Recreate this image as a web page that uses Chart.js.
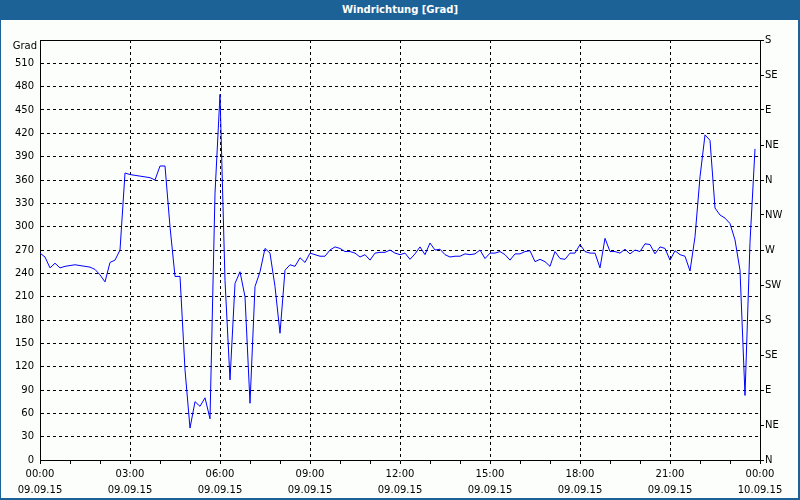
<!DOCTYPE html>
<html>
<head>
<meta charset="utf-8">
<script src="https://cdn.jsdelivr.net/npm/chart.js@4.4.1/dist/chart.umd.min.js"></script>
<style>
  body { margin: 0; background: #fcfefc; }
  #title {
    position: absolute; top: 0; left: 0; width: 800px; height: 20px;
    background: #1d6296; color: #fff; text-align: center;
    font: bold 10px "DejaVu Sans", sans-serif; line-height: 20px;
  }
  #unit {
    position: absolute; top: 40px; left: 0; width: 37px; height: 12px;
    text-align: right; font: 10px "DejaVu Sans", sans-serif; line-height: 12px; color: #000;
  }
  #chartBox { position: absolute; top: 20px; left: 0; width: 800px; height: 480px; }
</style>
</head>
<body>
<div id="title">Windrichtung [Grad]</div>
<div id="chartBox"><canvas id="windChart" width="800" height="480"></canvas></div>
<div id="unit">Grad</div>
<script>
// wind direction in degrees, one reading every 10 minutes from 09.09.15 00:00
const windDir = [
  266, 261, 247, 253, 247, 249, 250, 251, 250, 249, 248, 245,
  238, 229, 254, 257, 270, 369, 367, 366, 365, 364, 363, 360,
  378, 378, 300, 236, 236, 116, 41, 75, 69, 80, 53, 343,
  470, 231, 103, 227, 242, 210, 73, 223, 242, 272, 266, 223,
  163, 244, 251, 249, 260, 254, 266, 264, 262, 262, 270, 274,
  272, 268, 268, 266, 261, 264, 257, 266, 267, 267, 270, 266,
  264, 266, 258, 265, 274, 264, 279, 270, 271, 264, 261, 262,
  262, 265, 264, 265, 270, 259, 266, 266, 268, 264, 257, 265,
  265, 268, 269, 255, 258, 255, 249, 268, 259, 258, 266, 266,
  277, 268, 266, 266, 247, 285, 268, 268, 266, 271, 265, 270,
  268, 278, 277, 265, 274, 272, 257, 269, 264, 262, 243, 287,
  364, 418, 411, 324, 315, 311, 304, 283, 244, 83, 280, 400
];
const sampleMinutes = windDir.map((_, i) => i * 10);

const timeLabels = ['00:00', '03:00', '06:00', '09:00', '12:00', '15:00', '18:00', '21:00', '00:00'];
const dateLabels = ['09.09.15', '09.09.15', '09.09.15', '09.09.15', '09.09.15', '09.09.15', '09.09.15', '09.09.15', '10.09.15'];
const compassLabels = ['N', 'NE', 'E', 'SE', 'S', 'SW', 'W', 'NW', 'N', 'NE', 'E', 'SE', 'S'];

Chart.defaults.font.family = '"DejaVu Sans", sans-serif';
Chart.defaults.font.size = 10;
Chart.defaults.color = '#000';

// frame top line and the blue window border
const framePlugin = {
    id: 'frame',
    afterDraw(chart) {
        const { ctx, chartArea } = chart;
        ctx.save();
        ctx.strokeStyle = '#000';
        ctx.lineWidth = 1;
        ctx.beginPath();
        ctx.moveTo(chartArea.left, chartArea.top + 0.5);
        ctx.lineTo(chartArea.right, chartArea.top + 0.5);
        ctx.stroke();
        ctx.fillStyle = '#1d6296';
        ctx.fillRect(0, 0, 1, 480);
        ctx.fillRect(798, 0, 2, 480);
        ctx.fillRect(0, 478, 800, 2);
        ctx.restore();
    }
};

new Chart(document.getElementById('windChart'), {
    type: 'line',
    data: {
        datasets: [{
            data: sampleMinutes.map((m, i) => ({ x: m, y: windDir[i] })),
            borderColor: '#0000ff',
            borderWidth: 1,
            pointRadius: 0,
            tension: 0,
            yAxisID: 'y'
        }]
    },
    options: {
        responsive: false,
        animation: false,
        events: [],
        layout: { padding: { top: 20, left: 0, right: 0, bottom: 0 } },
        plugins: { legend: { display: false }, tooltip: { enabled: false } },
        scales: {
            x: {
                type: 'linear',
                min: 0,
                max: 1440,
                afterFit: (s) => { s.height = 40; },
                ticks: {
                    stepSize: 60,
                    autoSkip: false,
                    maxRotation: 0,
                    padding: 2,
                    font: { lineHeight: 1.6 },
                    callback: (v) => v % 180 === 0 ? [timeLabels[v / 180], dateLabels[v / 180]] : ''
                },
                grid: {
                    color: (c) => c.tick && c.tick.value % 180 === 0 ? '#000' : 'rgba(0,0,0,0)',
                    tickColor: '#000',
                    tickLength: 4
                },
                border: { color: '#000', dash: [3, 3] }
            },
            y: {
                position: 'left',
                min: 0,
                max: 540,
                afterFit: (s) => { s.width = 40; },
                ticks: {
                    stepSize: 30,
                    padding: 6,
                    // the top tick carries the unit label, placed separately
                    callback: (v) => v === 540 ? '' : v
                },
                grid: { color: '#000', drawTicks: false },
                border: { color: '#000', dash: [3, 3] }
            },
            y2: {
                position: 'right',
                min: 0,
                max: 540,
                afterFit: (s) => { s.width = 40; },
                ticks: {
                    stepSize: 45,
                    padding: 1,
                    callback: (v) => compassLabels[v / 45]
                },
                grid: { drawOnChartArea: false, color: '#000', tickLength: 4 },
                border: { color: '#000' }
            }
        }
    },
    plugins: [framePlugin]
});
</script>
</body>
</html>
